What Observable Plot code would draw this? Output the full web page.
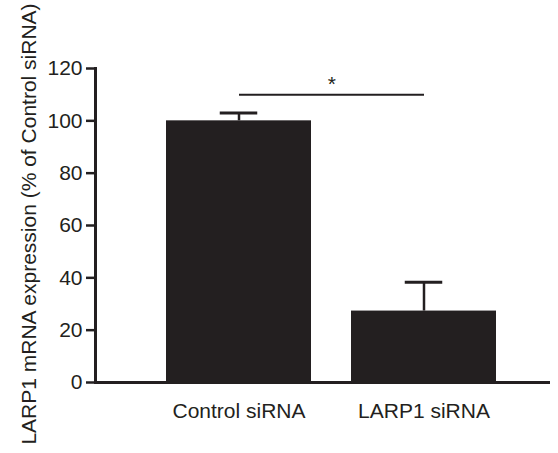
<!DOCTYPE html>
<html><head><meta charset="utf-8">
<script src="https://cdn.jsdelivr.net/npm/d3@7"></script>
<script src="https://cdn.jsdelivr.net/npm/@observablehq/plot@0.6"></script>
<style>html,body{margin:0;padding:0;background:#fff}</style>
</head><body><div id="chart"></div>
<script>
// ---- data ----
const categories = ["Control siRNA", "LARP1 siRNA"];
const means = [100, 27.3];
const errors = [3, 11];
const yTicks = [0, 20, 40, 60, 80, 100, 120];
const yDomain = [0, 120];
const sigLevel = 110;
const sigLabel = "*";
const yTitle = "LARP1 mRNA expression (% of Control siRNA)";

const data = categories.map((c, i) => ({group: c, mean: means[i], err: errors[i]}));
const sig = [{from: categories[0], to: categories[1], y: sigLevel, label: sigLabel}];

const ink = "#231f20";
const xRange = [166, 497];
const padInner = 0.2156;
const step = (xRange[1] - xRange[0]) / (categories.length - padInner);
const bandwidth = step * (1 - padInner);
const capWidth = 38;

const chart = Plot.plot({
  width: 558,
  height: 453,
  marginTop: 68,
  marginBottom: 71,
  marginLeft: 95,
  marginRight: 8,
  style: {fontFamily: "'Liberation Sans', Arial, sans-serif", color: ink, background: "#fff"},
  x: {domain: categories, range: xRange, paddingInner: padInner, paddingOuter: 0, label: null},
  y: {domain: yDomain, label: null},
  marks: [
    Plot.barY(data, {x: "group", y: "mean", fill: ink}),
    Plot.ruleX(data, {x: "group", y1: "mean", y2: d => d.mean + d.err, stroke: ink, strokeWidth: 2.5}),
    Plot.tickY(data, {x: "group", y: d => d.mean + d.err, stroke: ink, strokeWidth: 3,
      insetLeft: (bandwidth - capWidth) / 2, insetRight: (bandwidth - capWidth) / 2}),
    Plot.link(sig, {x1: "from", x2: "to", y1: "y", y2: "y", stroke: ink, strokeWidth: 2}),
    Plot.text(sig, {x: "from", y: "y", text: "label", dx: step / 2, dy: -10, fontSize: 21, fill: ink}),
    Plot.ruleY([0], {stroke: ink, strokeWidth: 3}),
    Plot.frame({anchor: "left", stroke: ink, strokeWidth: 3}),
    Plot.axisY({ticks: yTicks, tickSize: 9, tickPadding: 4, fontSize: 21, strokeWidth: 2.5, stroke: ink, fill: ink, label: null}),
    Plot.axisX({tickSize: 0, tickPadding: 20.5, fontSize: 21, fill: ink, label: null}),
    Plot.text([yTitle], {frameAnchor: "left", textAnchor: "middle", lineAnchor: "middle", text: d => d, rotate: -90, dx: -66.5, dy: -1.5, fontSize: 21, fill: ink})
  ]
});
document.getElementById("chart").appendChild(chart);
</script>
</body></html>
